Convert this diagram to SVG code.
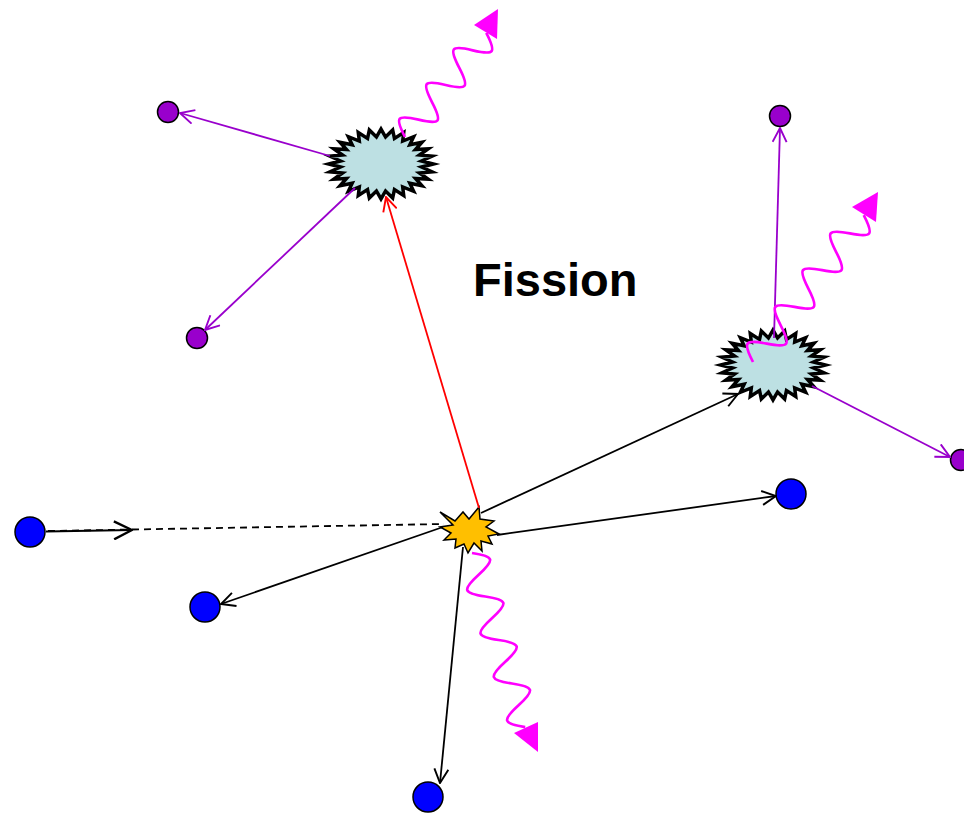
<svg xmlns="http://www.w3.org/2000/svg" width="964" height="813" viewBox="0 0 964 813">
  <style>
    .neutron { fill: #0000ff; stroke: #000; stroke-width: 1.5; }
    .fragment { fill: #9900cc; stroke: #000; stroke-width: 1.5; }
    .nucleus { fill: #bde0e3; stroke: #000; stroke-width: 3.6; stroke-linejoin: miter; stroke-miterlimit: 10; }
    .flash { fill: #ffbf00; stroke: #000; stroke-width: 1.5; stroke-linejoin: miter; }
    .path-black { stroke: #000; stroke-width: 1.8; fill: none; }
    .path-purple { stroke: #9900cc; stroke-width: 1.8; fill: none; }
    .path-red { stroke: #ff0000; stroke-width: 1.8; fill: none; }
    .photon { stroke: #ff00ff; stroke-width: 2.7; fill: none; }
    .photon-head { fill: #ff00ff; }
    .label { font-family: "Liberation Sans", Arial, sans-serif; font-weight: bold; font-size: 47px; fill: #000; }
  </style>
  <defs>
    <marker id="arrBlack" viewBox="0 0 16 16" refX="15" refY="8" markerWidth="16" markerHeight="16" markerUnits="userSpaceOnUse" orient="auto">
      <path d="M1,1 L15,8 L1,15" fill="none" stroke="#000" stroke-width="1.9"/>
    </marker>
    <marker id="arrBig" viewBox="0 0 20 20" refX="19" refY="10" markerWidth="20" markerHeight="20" markerUnits="userSpaceOnUse" orient="auto">
      <path d="M1,1 L19,10 L1,19" fill="none" stroke="#000" stroke-width="2.4"/>
    </marker>
    <marker id="arrPurple" viewBox="0 0 16 16" refX="15" refY="8" markerWidth="16" markerHeight="16" markerUnits="userSpaceOnUse" orient="auto">
      <path d="M1,1 L15,8 L1,15" fill="none" stroke="#9900cc" stroke-width="1.9"/>
    </marker>
    <marker id="arrRed" viewBox="0 0 16 16" refX="15" refY="8" markerWidth="16" markerHeight="16" markerUnits="userSpaceOnUse" orient="auto">
      <path d="M1,1 L15,8 L1,15" fill="none" stroke="#ff0000" stroke-width="1.9"/>
    </marker>
    <!-- spiky nucleus outline, 28 spikes on an ellipse -->
    <polygon id="burst" points="54,0 41.74,3.13 52.65,8.01 39.64,9.25 48.65,15.62 35.56,14.9 42.22,22.45 29.7,19.8 33.67,28.15 22.35,23.71 23.43,32.43 13.87,26.43 12.02,35.1 4.7,27.82 0,36 -4.7,27.82 -12.02,35.1 -13.87,26.43 -23.43,32.43 -22.35,23.71 -33.67,28.15 -29.7,19.8 -42.22,22.45 -35.56,14.9 -48.65,15.62 -39.64,9.25 -52.65,8.01 -41.74,3.13 -54,0 -41.74,-3.13 -52.65,-8.01 -39.64,-9.25 -48.65,-15.62 -35.56,-14.9 -42.22,-22.45 -29.7,-19.8 -33.67,-28.15 -22.35,-23.71 -23.43,-32.43 -13.87,-26.43 -12.02,-35.1 -4.7,-27.82 0,-36 4.7,-27.82 12.02,-35.1 13.87,-26.43 23.43,-32.43 22.35,-23.71 33.67,-28.15 29.7,-19.8 42.22,-22.45 35.56,-14.9 48.65,-15.62 39.64,-9.25 52.65,-8.01 41.74,-3.13"/>
  </defs>

  <rect width="964" height="813" fill="#fff"/>

  <!-- nodes -->
  <g id="nucleus-top"><use href="#burst" class="nucleus" transform="translate(381,164) scale(0.97)"/></g>
  <g id="nucleus-right"><use href="#burst" class="nucleus" transform="translate(773,365) scale(0.97)"/></g>
  <g id="fission-point"><polygon class="flash" points="440,512 455,521 463,512 469,519 479,507 480,519 494,521 486,527 499,534 488,536 492,544 481,541 482,551 474,543 468,553 464,544 455,548 456,539 444,540 451,533 440,527 453,525"/></g>
  <g id="neutron-in"><circle class="neutron" cx="30" cy="532" r="15"/></g>
  <g id="neutron-left"><circle class="neutron" cx="205" cy="607" r="15"/></g>
  <g id="neutron-right"><circle class="neutron" cx="791" cy="494" r="15"/></g>
  <g id="neutron-bottom"><circle class="neutron" cx="428" cy="797" r="15"/></g>
  <g id="fragment-tl"><circle class="fragment" cx="168" cy="112" r="10.5"/></g>
  <g id="fragment-bl"><circle class="fragment" cx="197" cy="338" r="10.5"/></g>
  <g id="fragment-tr"><circle class="fragment" cx="780" cy="116" r="10.5"/></g>
  <g id="fragment-r"><circle class="fragment" cx="961" cy="460" r="10.5"/></g>
  <g id="title"><text class="label" x="473" y="296">Fission</text></g>

  <!-- connectors -->
  <g id="connectors">
    <line class="path-black" x1="48" y1="531" x2="444" y2="524" stroke-dasharray="7,5"/>
    <line class="path-black" x1="46" y1="531.5" x2="132" y2="530" stroke-width="2.6" marker-end="url(#arrBig)"/>
    <line class="path-black" x1="443" y1="527" x2="221" y2="604" marker-end="url(#arrBlack)"/>
    <line class="path-black" x1="497" y1="535" x2="776" y2="496" marker-end="url(#arrBlack)"/>
    <line class="path-black" x1="481" y1="513" x2="738" y2="394" marker-end="url(#arrBlack)"/>
    <line class="path-black" x1="463" y1="547" x2="440" y2="783" marker-end="url(#arrBlack)"/>
    <line class="path-red" x1="479" y1="508" x2="386" y2="197" marker-end="url(#arrRed)"/>
    <line class="path-purple" x1="330" y1="156" x2="180" y2="113" marker-end="url(#arrPurple)"/>
    <line class="path-purple" x1="355" y1="188" x2="205" y2="330" marker-end="url(#arrPurple)"/>
    <line class="path-purple" x1="774" y1="338" x2="780" y2="128" marker-end="url(#arrPurple)"/>
    <line class="path-purple" x1="812" y1="386" x2="950" y2="457" marker-end="url(#arrPurple)"/>

    <!-- gamma photons -->
    <path class="photon" transform="translate(405,137) rotate(-52)" d="M0,0 C9.34,-20.5 12.66,-20.5 22,0 S34.66,20.5 44,0 S56.66,-20.5 66,0 S78.66,20.5 88,0 S100.66,-20.5 110,0 S122.66,20.5 132,0"/>
    <polygon class="photon-head" points="498,9 474,25 497,39"/>
    <path class="photon" transform="translate(753,362) rotate(-53)" d="M0,0 C9.76,-20.5 13.24,-20.5 23,0 S36.24,20.5 46,0 S59.24,-20.5 69,0 S82.24,20.5 92,0 S105.24,-20.5 115,0 S128.24,20.5 138,0 S151.24,-20.5 161,0 S174.24,20.5 184,0"/>
    <polygon class="photon-head" points="878,192 852,207 876,222"/>
    <path class="photon" transform="translate(472,553) rotate(73)" d="M0,0 C9.65,-20.5 13.1,-20.5 22.75,0 S35.85,20.5 45.5,0 S58.6,-20.5 68.25,0 S81.35,20.5 91,0 S104.1,-20.5 113.75,0 S126.85,20.5 136.5,0 S149.6,-20.5 159.25,0 S172.35,20.5 182,0"/>
    <polygon class="photon-head" points="514,733 538,722 538,752"/>
  </g>
</svg>
